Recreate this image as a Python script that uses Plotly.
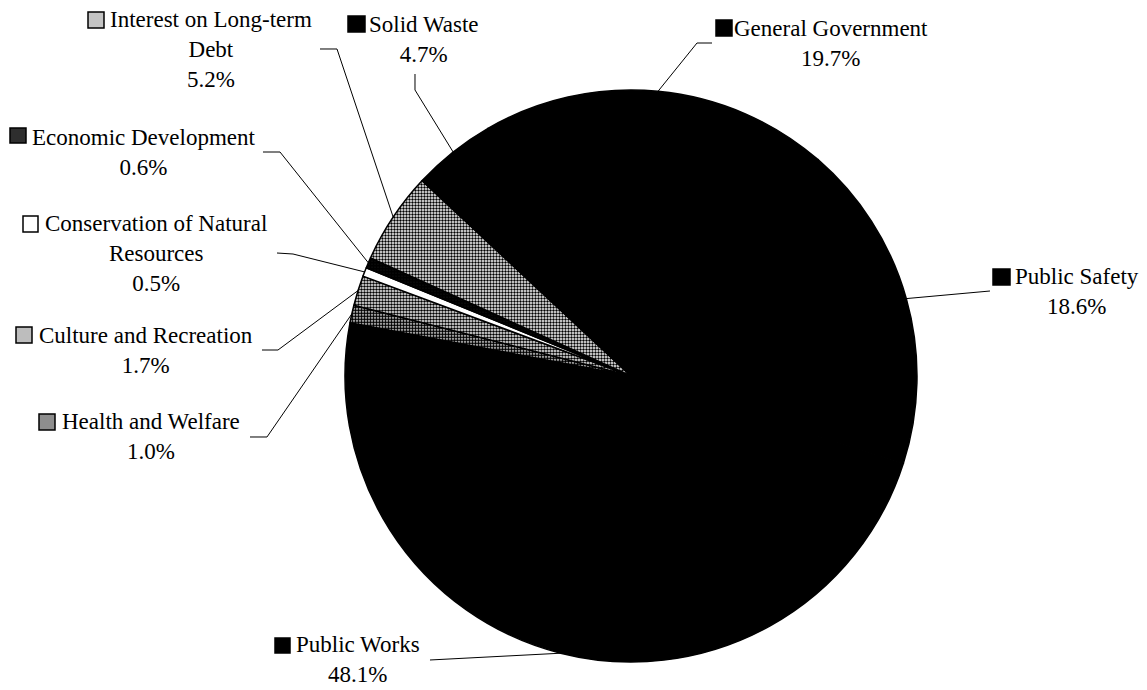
import math
import plotly.graph_objects as go

# ---- data ----
categories = ["General Government", "Public Safety", "Public Works", "Health and Welfare",
              "Culture and Recreation", "Conservation of Natural Resources",
              "Economic Development", "Interest on Long-term Debt", "Solid Waste"]
values = [19.7, 18.6, 48.1, 1.0, 1.7, 0.5, 0.6, 5.2, 4.7]
label_texts = ["General Government", "Public Safety", "Public Works", "Health and Welfare",
               "Culture and Recreation", "Conservation of Natural<br>Resources",
               "Economic Development", "Interest on Long-term<br>Debt", "Solid Waste"]

# ---- style / layout ----
W, H = 1147, 690
colors = ["#000000", "#000000", "#000000", "#8e8e8e", "#bdbdbd", "#ffffff",
          "#2e2e2e", "#c4c4c4", "#000000"]
pattern_shapes = ["", "", "", ".", ".", "", ".", ".", ""]
pattern_solidity = [0.3, 0.3, 0.3, 0.7, 0.55, 0.3, 0.9, 0.5, 0.3]
CX, CY, R = 631, 376, 286
ROTATION = -30
FONT = "Liberation Serif"
FS = 23

# label block centre, key square (x0,y0,x1,y1), leader polyline start points (pixels)
label_layout = {
    "General Government": dict(c=(831, 43), key=(716, 20, 732, 36), lead=[(712, 43), (697, 43)]),
    "Public Safety": dict(c=(1077, 292), key=(993, 269, 1010, 285), lead=[(990, 291)]),
    "Public Works": dict(c=(358, 659), key=(275, 638, 290, 653), lead=[(430, 660)]),
    "Health and Welfare": dict(c=(151, 436), key=(39, 414, 55, 430), lead=[(250, 437), (267, 437)]),
    "Culture and Recreation": dict(c=(146, 350), key=(16, 327, 32, 343), lead=[(262, 350), (278, 350)]),
    "Conservation of Natural Resources": dict(c=(156, 254), key=(23, 216, 38, 232), lead=[(277, 253), (293, 254)]),
    "Economic Development": dict(c=(144, 152), key=(10, 128, 26, 143), lead=[(263, 152), (280, 152)]),
    "Interest on Long-term Debt": dict(c=(211, 50), key=(88, 12, 104, 28), lead=[(320, 49), (337, 49)]),
    "Solid Waste": dict(c=(424, 39), key=(348, 16, 365, 32), lead=[(415, 74), (415, 90)]),
}


def px(x):
    return x / W


def py(y):
    return 1 - y / H


fig = go.Figure()
fig.add_trace(go.Pie(
    labels=categories, values=values, sort=False, direction="clockwise",
    rotation=ROTATION, textinfo="none", hoverinfo="label+percent",
    marker=dict(colors=colors, line=dict(color="#000000", width=1.5),
                pattern=dict(shape=pattern_shapes, fgcolor="#000000", bgcolor="#ffffff",
                             size=3, solidity=pattern_solidity, fillmode="replace")),
    domain=dict(x=[px(CX - R), px(CX + R)], y=[py(CY + R), py(CY - R)]),
    showlegend=False,
))

total = sum(values)
shapes = []
annotations = []
cum = 0.0
for cat, val, txt, col in zip(categories, values, label_texts, colors):
    mid = 90 - ROTATION - 360 * (cum + val / 2) / total
    cum += val
    ex = CX + R * math.cos(math.radians(mid))
    ey = CY - R * math.sin(math.radians(mid))
    lay = label_layout[cat]
    pts = lay["lead"] + [(ex, ey)]
    path = "M " + " L ".join(f"{px(x):.5f},{py(y):.5f}" for x, y in pts)
    shapes.append(dict(type="path", xref="paper", yref="paper", path=path,
                       line=dict(color="#000000", width=1)))
    k = lay["key"]
    shapes.append(dict(type="rect", xref="paper", yref="paper",
                       x0=px(k[0]), x1=px(k[2]), y0=py(k[3]), y1=py(k[1]),
                       fillcolor=col, line=dict(color="#000000", width=1.5)))
    annotations.append(dict(
        x=px(lay["c"][0]), y=py(lay["c"][1]), xref="paper", yref="paper",
        xanchor="center", yanchor="middle", align="center", showarrow=False,
        text=f"{txt}<br>{val:.1f}%",
        font=dict(family=FONT, size=FS, color="#000000"),
    ))

fig.update_layout(
    width=W, height=H, margin=dict(l=0, r=0, t=0, b=0),
    paper_bgcolor="#ffffff", plot_bgcolor="#ffffff",
    font=dict(family=FONT, size=FS, color="#000000"),
    shapes=shapes, annotations=annotations,
)

fig.write_html("out.html")
